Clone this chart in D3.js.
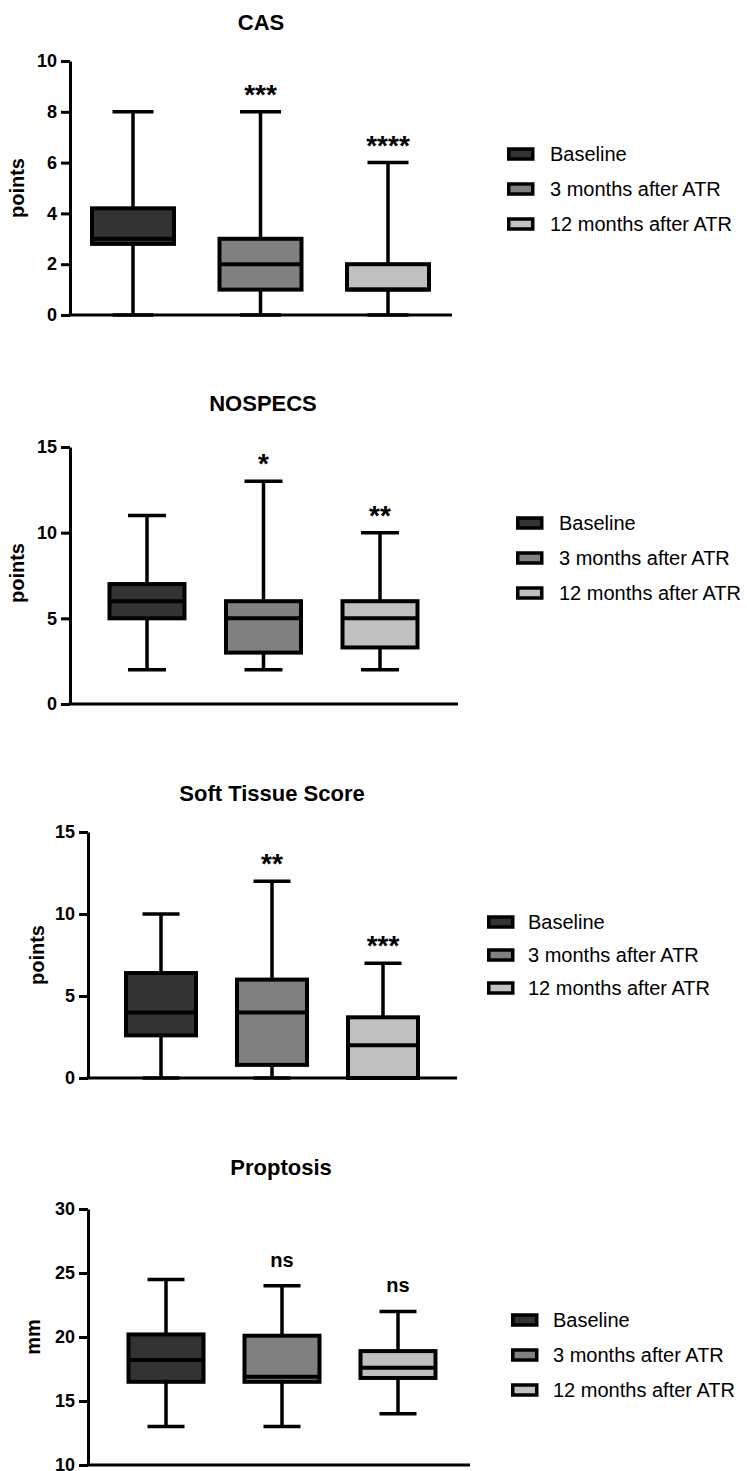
<!DOCTYPE html>
<html>
<head>
<meta charset="utf-8">
<script src="https://cdn.jsdelivr.net/npm/d3@7"></script>
<style>
  body { margin: 0; background: #fff; }
  svg { display: block; font-family: "Liberation Sans", Arial, sans-serif; }
</style>
</head>
<body>
<div id="chart"></div>
<script>
// groups shown in every panel
const groups = ['Baseline', '3 months after ATR', '12 months after ATR'];
const groupColors = ['#333333', '#808080', '#c0c0c0'];

// box stats per group: [min, q1, median, q3, max]
const casStats = [[0, 2.8, 3, 4.2, 8], [0, 1, 2, 3, 8], [0, 1, 1, 2, 6]];
const nospecsStats = [[2, 5, 6, 7, 11], [2, 3, 5, 6, 13], [2, 3.3, 5, 6, 10]];
const softStats = [[0, 2.6, 4, 6.4, 10], [0, 0.8, 4, 6, 12], [0, 0, 2, 3.7, 7]];
const proptosisStats = [[13, 16.5, 18.2, 20.2, 24.5], [13, 16.5, 16.9, 20.1, 24], [14, 16.8, 17.6, 18.9, 22]];

// significance labels above each group
const casSig = ['', '***', '****'];
const nospecsSig = ['', '*', '**'];
const softSig = ['', '**', '***'];
const proptosisSig = ['', 'ns', 'ns'];

// tick labels
const casTicks = [0, 2, 4, 6, 8, 10];
const nospecsTicks = [0, 5, 10, 15];
const softTicks = [0, 5, 10, 15];
const proptosisTicks = [10, 15, 20, 25, 30];

// panel layout (pixels)
const panels = [
    {title: 'CAS', yLabel: 'points', stats: casStats, sig: casSig, ticks: casTicks,
     axisX: 70, xEnd: 452, yTop: 61, yBottom: 315, centers: [133, 388], boxW: 82, capW: 41,
     titleX: 261, titleY: 22, labelX: 17, labelY: 188,
     legX: 507, legY: 154, legStep: 35, legTextX: 550},
    {title: 'NOSPECS', yLabel: 'points', stats: nospecsStats, sig: nospecsSig, ticks: nospecsTicks,
     axisX: 70, xEnd: 458, yTop: 447, yBottom: 704, centers: [147, 380], boxW: 75, capW: 38,
     titleX: 263, titleY: 403, labelX: 17, labelY: 573,
     legX: 516, legY: 523, legStep: 35, legTextX: 559},
    {title: 'Soft Tissue Score', yLabel: 'points', stats: softStats, sig: softSig, ticks: softTicks,
     axisX: 88, xEnd: 457, yTop: 832, yBottom: 1078, centers: [161, 383], boxW: 70, capW: 37,
     titleX: 272, titleY: 793, labelX: 37, labelY: 955,
     legX: 487, legY: 922, legStep: 33, legTextX: 528},
    {title: 'Proptosis', yLabel: 'mm', stats: proptosisStats, sig: proptosisSig, ticks: proptosisTicks,
     axisX: 88, xEnd: 470, yTop: 1209, yBottom: 1465, centers: [166, 398], boxW: 75, capW: 37,
     titleX: 281, titleY: 1167, labelX: 33, labelY: 1337,
     legX: 511, legY: 1320, legStep: 35, legTextX: 553}
];

const svg = d3.select('#chart')
    .append('svg')
    .attr('width', 747)
    .attr('height', 1471);

panels.forEach(p => {
    const g = svg.append('g');

    const y = d3.scaleLinear()
        .domain(d3.extent(p.ticks))
        .range([p.yBottom, p.yTop]);

    const x = d3.scalePoint()
        .domain(groups)
        .range(p.centers);

    // y axis
    const yAxis = g.append('g')
        .attr('transform', `translate(${p.axisX},0)`)
        .call(d3.axisLeft(y).tickValues(p.ticks).tickSize(9).tickSizeOuter(0).tickPadding(4));
    yAxis.select('.domain').attr('stroke', '#000').attr('stroke-width', 3);
    yAxis.selectAll('.tick line').attr('stroke', '#000').attr('stroke-width', 3);
    yAxis.selectAll('.tick text')
        .attr('fill', '#000')
        .style('font-size', '18px')
        .style('font-weight', 'bold')
        .style('font-family', '"Liberation Sans", Arial, sans-serif');

    // x axis line
    g.append('line')
        .attr('x1', p.axisX - 1.5)
        .attr('x2', p.xEnd)
        .attr('y1', y(p.ticks[0]))
        .attr('y2', y(p.ticks[0]))
        .attr('stroke', '#000')
        .attr('stroke-width', 3);

    // boxes
    const data = groups.map((name, i) => ({name, i, s: p.stats[i], sig: p.sig[i]}));
    const box = g.selectAll('.box')
        .data(data)
        .enter()
        .append('g')
        .attr('class', 'box');

    // whiskers
    box.append('line')
        .attr('x1', d => x(d.name)).attr('x2', d => x(d.name))
        .attr('y1', d => y(d.s[0])).attr('y2', d => y(d.s[4]))
        .attr('stroke', '#000').attr('stroke-width', 3.5);
    [0, 4].forEach(k => {
        box.append('line')
            .attr('x1', d => x(d.name) - p.capW / 2)
            .attr('x2', d => x(d.name) + p.capW / 2)
            .attr('y1', d => y(d.s[k])).attr('y2', d => y(d.s[k]))
            .attr('stroke', '#000').attr('stroke-width', 3.5);
    });

    box.append('rect')
        .attr('x', d => x(d.name) - p.boxW / 2)
        .attr('width', p.boxW)
        .attr('y', d => y(d.s[3]))
        .attr('height', d => y(d.s[1]) - y(d.s[3]))
        .attr('fill', d => groupColors[d.i])
        .attr('stroke', '#000')
        .attr('stroke-width', 4);

    box.append('line')
        .attr('x1', d => x(d.name) - p.boxW / 2)
        .attr('x2', d => x(d.name) + p.boxW / 2)
        .attr('y1', d => y(d.s[2])).attr('y2', d => y(d.s[2]))
        .attr('stroke', '#000').attr('stroke-width', 4);

    // significance marks
    box.filter(d => d.sig)
        .append('text')
        .attr('x', d => x(d.name))
        .attr('y', d => {
            const c = y(d.s[4]) - 24;
            return d.sig === 'ns' ? c + 5 : c + 16;
        })
        .attr('text-anchor', 'middle')
        .style('font-size', d => d.sig === 'ns' ? '20px' : '28px')
        .style('font-weight', 'bold')
        .text(d => d.sig);

    // title
    g.append('text')
        .attr('x', p.titleX)
        .attr('y', p.titleY + 8)
        .attr('text-anchor', 'middle')
        .style('font-size', '22px')
        .style('font-weight', 'bold')
        .text(p.title);

    // y label
    g.append('text')
        .attr('transform', `translate(${p.labelX + 7},${p.labelY}) rotate(-90)`)
        .attr('text-anchor', 'middle')
        .style('font-size', '20px')
        .style('font-weight', 'bold')
        .text(p.yLabel);

    // legend
    const leg = g.selectAll('.leg')
        .data(groups)
        .enter()
        .append('g')
        .attr('class', 'leg')
        .attr('transform', (d, i) => `translate(0,${p.legY + i * p.legStep})`);
    leg.append('rect')
        .attr('x', p.legX + 1.75)
        .attr('y', -5)
        .attr('width', 24)
        .attr('height', 10)
        .attr('fill', (d, i) => groupColors[i])
        .attr('stroke', '#000')
        .attr('stroke-width', 3.5);
    leg.append('text')
        .attr('x', p.legTextX)
        .attr('y', 7)
        .style('font-size', '20px')
        .text(d => d);
});
</script>
</body>
</html>
